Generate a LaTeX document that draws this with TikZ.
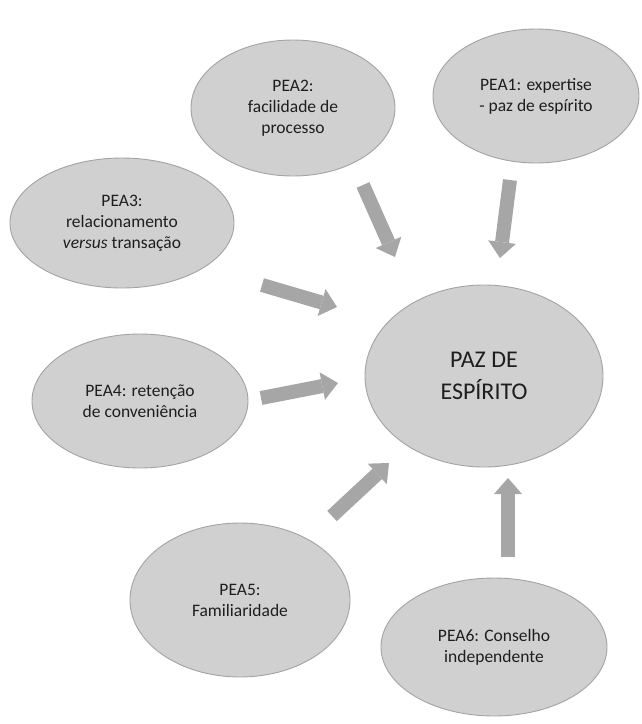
\documentclass[tikz,border=0pt]{standalone}
\usepackage{fontspec}
\setmainfont{Carlito}
\usetikzlibrary{shapes.geometric,arrows.meta}
\definecolor{bubblefill}{HTML}{D0D0D0}
\definecolor{bubbleline}{HTML}{A3A3A3}
\definecolor{arrowgray}{HTML}{A6A6A6}
\definecolor{inkgray}{HTML}{1E1E1E}
\begin{document}
\begin{tikzpicture}[x=1pt,y=-1pt,
  bubble/.style={ellipse, draw=bubbleline, line width=0.9pt, fill=bubblefill,
    inner sep=0pt, align=center, text=inkgray,
    font=\fontsize{17.5}{21}\selectfont},
  hub/.style={bubble, font=\fontsize{24}{32}\selectfont},
  blockarrow/.style={draw=arrowgray, line width=14pt,
    -{Triangle[width=28pt,length=16pt,line width=0pt]}}]
\useasboundingbox (0,0) rectangle (641,724);

% outer bubbles
\node[bubble, minimum width=206pt, minimum height=134pt] (p1) at (536,96)
  {PEA1: expertise\\- paz de espírito};
\node[bubble, minimum width=204pt, minimum height=136pt] (p2) at (293,108)
  {PEA2:\\facilidade de\\processo};
\node[bubble, minimum width=224pt, minimum height=130pt] (p3) at (122,223)
  {PEA3:\\relacionamento\\\textit{versus} transação};
\node[bubble, minimum width=216pt, minimum height=134pt] (p4) at (140,401)
  {PEA4: retenção\\de conveniência};
\node[bubble, minimum width=220pt, minimum height=154pt] (p5) at (240,600)
  {PEA5:\\Familiaridade};
\node[bubble, minimum width=226pt, minimum height=138pt] (p6) at (494,647)
  {PEA6: Conselho\\independente};

% central bubble
\node[hub, minimum width=238pt, minimum height=182pt] (paz) at (484,376)
  {PAZ DE\\ESPÍRITO};

% arrow end points
\coordinate (a1s) at (510,180); \coordinate (a1e) at (500,258);
\coordinate (a2s) at (363,185); \coordinate (a2e) at (395,257);
\coordinate (a3s) at (262,285); \coordinate (a3e) at (337,307);
\coordinate (a4s) at (261,398); \coordinate (a4e) at (338,383);
\coordinate (a5s) at (332,516); \coordinate (a5e) at (389,463);
\coordinate (a6s) at (508,557); \coordinate (a6e) at (508,478);

\draw[blockarrow] (a1s) -- (a1e);
\draw[blockarrow] (a2s) -- (a2e);
\draw[blockarrow] (a3s) -- (a3e);
\draw[blockarrow] (a4s) -- (a4e);
\draw[blockarrow] (a5s) -- (a5e);
\draw[blockarrow] (a6s) -- (a6e);
\end{tikzpicture}
\end{document}
